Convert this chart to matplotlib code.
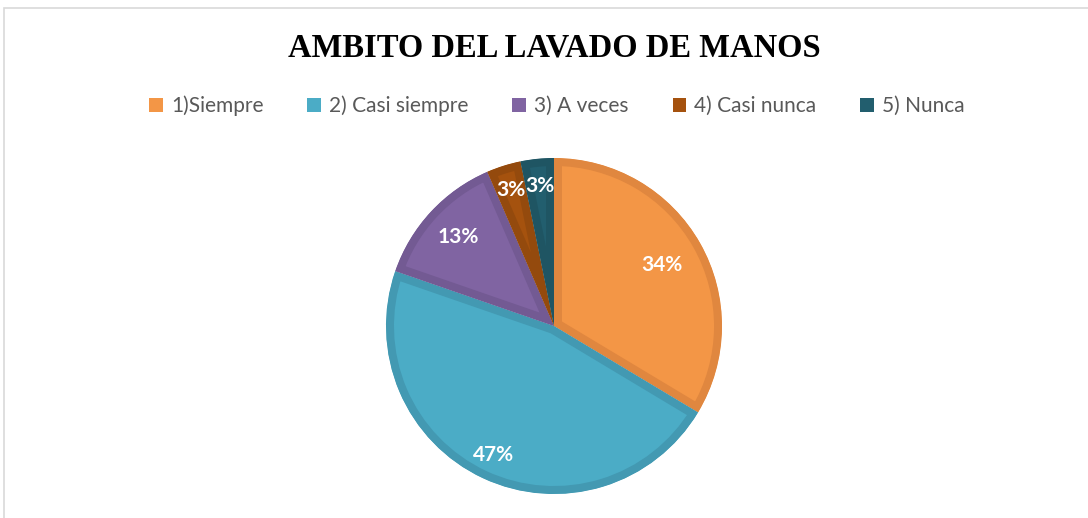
# === IMPORT LIBRARIES ===
import numpy as np
import matplotlib
matplotlib.use("Agg")
import matplotlib.pyplot as plt
from matplotlib.patches import Patch, Rectangle

# === DATA ===
categories = ["1)Siempre", "2) Casi siempre", "3) A veces", "4) Casi nunca", "5) Nunca"]
values = [33.6, 46.7, 13.2, 3.3, 3.2]          # percent
labels = ["34%", "47%", "13%", "3%", "3%"]

# === STYLE ===
fill_colors = ["#F39646", "#4BACC6", "#8064A2", "#A5520E", "#225E6E"]
edge_colors = ["#E0873F", "#4399B2", "#735A93", "#944A0D", "#1F5563"]
label_radius = [0.74, 0.85, 0.78, 0.85, 0.84]

W, H = 1088, 518
fig = plt.figure(figsize=(W / 100, H / 100), dpi=100, facecolor="white")

# chart frame (light grey border like the office chart area)
fig.patches.append(Rectangle((4 / W, -0.01), 1.02, (H - 8) / H + 0.01,
                             transform=fig.transFigure, fill=False,
                             edgecolor="#D9D9D9", linewidth=1.2))

# === PIE ===
cx, cy, r_px = 554, 326, 170
half = 210
ax = fig.add_axes([(cx - half) / W, (H - cy - half) / H, 2 * half / W, 2 * half / H])
lim = half / r_px
ax.set_xlim(-lim, lim)
ax.set_ylim(-lim, lim)
ax.set_aspect("equal")
ax.axis("off")

wedges, _ = ax.pie(values, colors=fill_colors, startangle=90, counterclock=False,
                   radius=1.0, wedgeprops=dict(linewidth=11.5))
for w, ec in zip(wedges, edge_colors):
    w.set_edgecolor(ec)
    w.set_clip_on(True)
    w.set_clip_path(w)   # keep only the inner half of the stroke

for w, lab, rr in zip(wedges, labels, label_radius):
    ang = np.radians((w.theta1 + w.theta2) / 2)
    ax.text(rr * np.cos(ang), rr * np.sin(ang), lab, ha="center", va="center",
            color="white", fontsize=15, fontweight="bold", family="Lato")

# === TITLE ===
fig.text(554 / W, 1 - 48 / H, "AMBITO DEL LAVADO DE MANOS", ha="center", va="center",
         fontsize=23.5, fontweight="bold", family="Liberation Serif", color="black")

# === LEGEND ===
handles = [Patch(facecolor=c, edgecolor="none") for c in fill_colors]
fig.legend(handles, categories, loc="center", bbox_to_anchor=(557 / W, 1 - 106 / H),
           ncol=5, frameon=False, handlelength=0.65, handleheight=0.65,
           handletextpad=0.4, columnspacing=2.1,
           prop=dict(family="Lato", size=15), labelcolor="#595959")

plt.savefig("out.png", dpi=100, facecolor="white")
